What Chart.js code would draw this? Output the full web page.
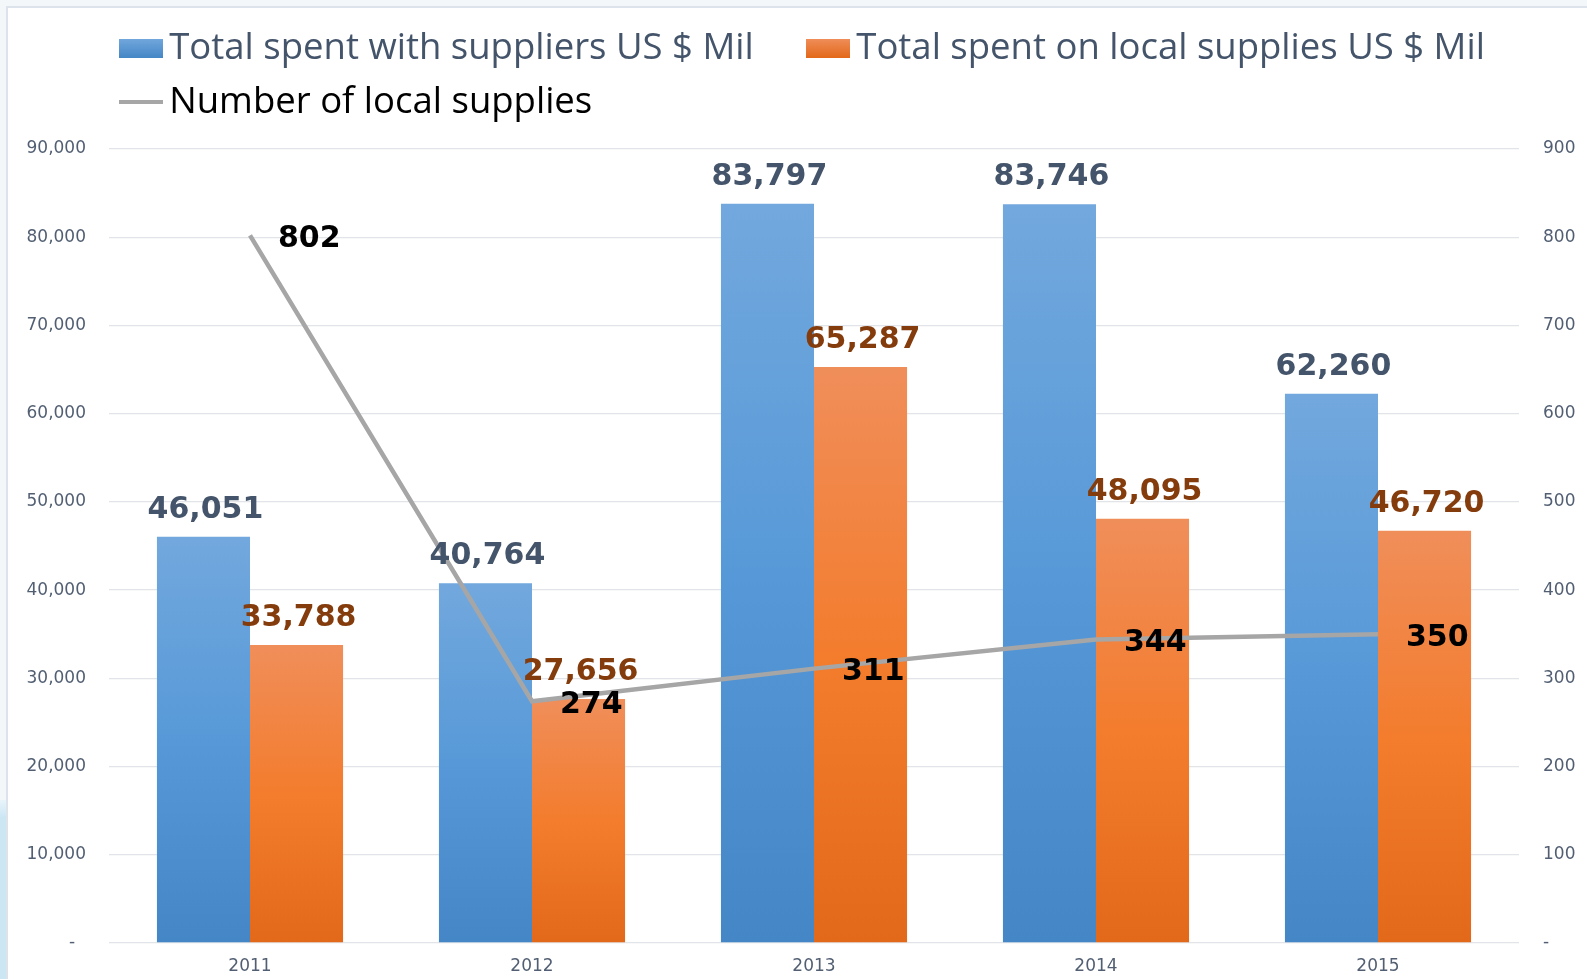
<!DOCTYPE html>
<html>
<head>
<meta charset="utf-8">
<script src="https://cdn.jsdelivr.net/npm/chart.js@4"></script>
<style>
  html, body { margin: 0; padding: 0; overflow: hidden; background: #f3f7fa; }
  .frame {
    position: absolute; left: 6px; top: 6px; width: 1600px; height: 1000px;
    background: #fff; border-left: 2px solid #dde3ea; border-top: 2px solid #dde3ea;
  }
  .strip {
    position: absolute; left: 0; top: 800px; width: 6px; height: 179px;
    background: linear-gradient(#e9f4fa, #cce6f4 10%, #cce6f4);
  }
  #chart { position: absolute; left: 0; top: 0; }
</style>
</head>
<body>
<div class="frame"></div>
<div class="strip"></div>
<canvas id="chart" width="1587" height="979"></canvas>
<script>
const years = ['2011', '2012', '2013', '2014', '2015'];
const totalSpent = [46051, 40764, 83797, 83746, 62260];
const localSpent = [33788, 27656, 65287, 48095, 46720];
const localSuppliers = [802, 274, 311, 344, 350];

const seriesNames = [
  'Total spent with suppliers US $ Mil',
  'Total spent on local supplies US $ Mil',
  'Number of local supplies'
];

const blueStops = ['#72a8dd', '#5799d8', '#4587c6'];
const orangeStops = ['#f08e5a', '#f37c2d', '#e3691a'];
const lineColor = '#a6a6a6';

const labelFont = 'bold 30px "DejaVu Sans"';
const tickFont = { family: 'DejaVu Sans', size: 17 };
const tickColor = '#525f73';

// gradient per bar, light at the top and darker at the base
function barGradient(stops) {
  return (ctx) => {
    const chart = ctx.chart;
    if (!chart.chartArea || ctx.type !== 'data') return stops[1];
    const y = chart.scales.y;
    const top = y.getPixelForValue(ctx.raw);
    const bottom = y.getPixelForValue(0);
    const g = chart.ctx.createLinearGradient(0, top, 0, bottom);
    g.addColorStop(0, stops[0]);
    g.addColorStop(0.5, stops[1]);
    g.addColorStop(1, stops[2]);
    return g;
  };
}

function boxIcon(stops) {
  const c = document.createElement('canvas');
  c.width = 44; c.height = 19;
  const x = c.getContext('2d');
  const g = x.createLinearGradient(0, 0, 0, 19);
  g.addColorStop(0, stops[0]);
  g.addColorStop(1, stops[2]);
  x.fillStyle = g;
  x.fillRect(0, 0, 44, 19);
  return c;
}

function lineIcon() {
  const c = document.createElement('canvas');
  c.width = 44; c.height = 4;
  const x = c.getContext('2d');
  x.fillStyle = lineColor;
  x.fillRect(0, 0, 44, 4);
  return c;
}

const legendIcons = [boxIcon(blueStops), boxIcon(orangeStops), lineIcon()];
const legendColors = ['#44546a', '#44546a', '#000000'];

const fmt = (v) => v.toLocaleString('en-US');

const valueLabels = {
  id: 'valueLabels',
  afterDatasetsDraw(chart) {
    const ctx = chart.ctx;
    ctx.save();
    ctx.font = labelFont;
    chart.data.datasets.forEach((ds, i) => {
      const meta = chart.getDatasetMeta(i);
      meta.data.forEach((el, j) => {
        const text = fmt(ds.data[j]);
        ctx.fillStyle = ds.labelColor;
        if (ds.type === 'line') {
          ctx.textAlign = 'left';
          ctx.textBaseline = 'middle';
          ctx.fillText(text, el.x + 28, el.y + 4);
        } else {
          ctx.textAlign = 'center';
          ctx.textBaseline = 'alphabetic';
          ctx.fillText(text, el.x + 2, el.y - 19);
        }
      });
    });
    ctx.restore();
  }
};

// put the legend rows over the plot's left edge, like the original
const legendPlace = {
  id: 'legendPlace',
  afterLayout(chart) {
    chart.legend.left = chart.chartArea.left + 5;
    chart.legend.top = 12.5;
  }
};

new Chart(document.getElementById('chart'), {
  type: 'bar',
  data: {
    labels: years,
    datasets: [{
      type: 'line',
      label: seriesNames[2],
      data: localSuppliers,
      yAxisID: 'y1',
      borderColor: lineColor,
      backgroundColor: lineColor,
      borderWidth: 4.5,
      pointRadius: 0,
      tension: 0,
      order: 0,
      labelColor: '#000000'
    }, {
      label: seriesNames[0],
      data: totalSpent,
      backgroundColor: barGradient(blueStops),
      order: 1,
      labelColor: '#44546a'
    }, {
      label: seriesNames[1],
      data: localSpent,
      backgroundColor: barGradient(orangeStops),
      order: 1,
      labelColor: '#843c0c'
    }]
  },
  options: {
    responsive: false,
    animation: false,
    layout: { padding: { top: 31, left: 0, right: 0, bottom: 0 } },
    datasets: {
      bar: { categoryPercentage: 0.66, barPercentage: 1 }
    },
    plugins: {
      tooltip: { enabled: false },
      legend: {
        position: 'top',
        align: 'start',
        labels: {
          usePointStyle: true,
          pointStyleWidth: 19.5,
          padding: 17.5,
          font: { family: 'Open Sans', size: 36.5 },
          sort: (a, b) => [1, 2, 0].indexOf(a.datasetIndex) - [1, 2, 0].indexOf(b.datasetIndex),
          generateLabels(chart) {
            const items = Chart.defaults.plugins.legend.labels.generateLabels(chart);
            items.forEach((it) => {
              const k = seriesNames.indexOf(it.text);
              it.pointStyle = legendIcons[k];
              it.fontColor = legendColors[k];
              if (k === 0) it.text = it.text + '     ';
            });
            return items;
          }
        }
      }
    },
    scales: {
      x: {
        grid: { display: false },
        border: { display: false },
        ticks: { font: tickFont, color: tickColor, padding: 5 },
        afterFit(scale) { scale.height = 36; }
      },
      y: {
        position: 'left',
        min: 0,
        max: 90000,
        grid: { color: '#e1e4e8', lineWidth: 1.3, drawTicks: false },
        border: { display: false },
        ticks: {
          stepSize: 10000,
          font: tickFont,
          color: tickColor,
          padding: 23,
          callback: (v) => v === 0 ? '-  ' : fmt(v)
        },
        afterFit(scale) { scale.width = 109; }
      },
      y1: {
        position: 'right',
        min: 0,
        max: 900,
        grid: { display: false, drawTicks: false },
        border: { display: false },
        ticks: {
          stepSize: 100,
          font: tickFont,
          color: tickColor,
          padding: 24,
          callback: (v) => v === 0 ? '-' : fmt(v)
        },
        afterFit(scale) { scale.width = 68; }
      }
    }
  },
  plugins: [valueLabels, legendPlace]
});
</script>
</body>
</html>
